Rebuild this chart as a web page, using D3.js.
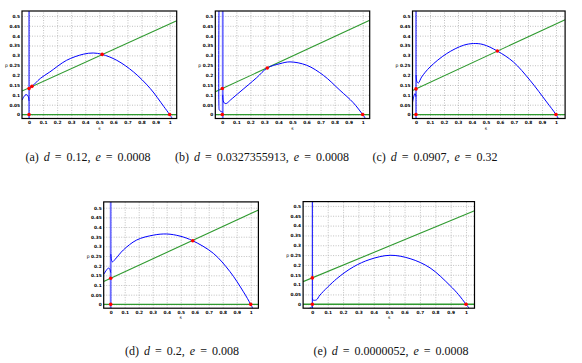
<!DOCTYPE html>
<html>
<head>
<meta charset="utf-8">
<script src="https://cdn.jsdelivr.net/npm/d3@7"></script>
<style>
  body { margin: 0; background: #fff; }
  svg { display: block; }
  .tick text { font-family: "DejaVu Sans", sans-serif; font-size: 4.3px; font-weight: bold; fill: #000; }
  .grid line { stroke: #b0b0b0; stroke-dasharray: 1,1.5; stroke-width: 0.8; }
  .grid path { display: none; }
  .caption { font-family: "Liberation Serif", serif; font-size: 12px; word-spacing: 2px; fill: #111; }
</style>
</head>
<body>
<div id="chart"></div>
<script>
// ticks
const xTicks = [0, 0.1, 0.2, 0.3, 0.4, 0.5, 0.6, 0.7, 0.8, 0.9, 1];
const yTicks = [0, 0.05, 0.1, 0.15, 0.2, 0.25, 0.3, 0.35, 0.4, 0.45, 0.5];

// (a) d = 0.12, e = 0.0008
const aMainS = [0.001, 0.004, 0.021, 0.08, 0.148, 0.267, 0.386, 0.457, 0.52, 0.624, 0.743, 0.862, 0.957, 1.0, 1.03];
const aMainP = [0.13, 0.136, 0.143, 0.183, 0.216, 0.275, 0.306, 0.312, 0.305, 0.275, 0.216, 0.132, 0.042, 0.0, -0.032];
const aLeftS = [-0.05, -0.035, -0.022, -0.01, -0.003, -0.001];
const aLeftP = [0.073, 0.092, 0.101, 0.097, 0.085, 0.07];
const aGreenS = [-0.05, 1.05];
const aGreenP = [0.119, 0.476];
const aDotS = [0, 1, 0, 0.021, 0.52];
const aDotP = [0, 0, 0.132, 0.143, 0.305];

// (b) d = 0.0327355913, e = 0.0008
const bMainS = [0.003, 0.006, 0.015, 0.028, 0.06, 0.126, 0.245, 0.32, 0.411, 0.482, 0.601, 0.72, 0.838, 0.933, 1.0, 1.02];
const bMainP = [0.1, 0.07, 0.058, 0.056, 0.075, 0.115, 0.187, 0.236, 0.258, 0.267, 0.25, 0.199, 0.123, 0.06, 0.0, -0.02];
const bLeftS = [-0.024, -0.024, -0.022, -0.015, -0.005, 0.003];
const bLeftP = [0.53, 0.04, 0.024, 0.018, 0.014, 0.012];
const bGreenS = [-0.05, 1.05];
const bGreenP = [0.115, 0.478];
const bDotS = [0, 1, 0, 0.32];
const bDotP = [0, 0, 0.132, 0.236];

// (c) d = 0.0907, e = 0.32
const cMainS = [0.001, 0.006, 0.017, 0.04, 0.1, 0.219, 0.338, 0.41, 0.48, 0.581, 0.695, 0.814, 0.933, 1.0, 1.025];
const cMainP = [0.2, 0.168, 0.16, 0.19, 0.241, 0.309, 0.351, 0.36, 0.355, 0.322, 0.267, 0.174, 0.064, 0.0, -0.03];
const cLeftS = [-0.025, -0.016, -0.007, -0.003, -0.001];
const cLeftP = [0.06, 0.092, 0.106, 0.1, 0.09];
const cGreenS = [-0.025, 1.065];
const cGreenP = [0.122, 0.481];
const cDotS = [0, 1, 0, 0.581];
const cDotP = [0, 0, 0.13, 0.322];

// (d) d = 0.2, e = 0.008
const dMainS = [0.001, 0.005, 0.012, 0.04, 0.09, 0.186, 0.305, 0.4, 0.495, 0.586, 0.733, 0.852, 0.948, 1.0, 1.025];
const dMainP = [0.26, 0.23, 0.22, 0.24, 0.281, 0.333, 0.358, 0.364, 0.353, 0.329, 0.264, 0.169, 0.065, 0.0, -0.035];
const dLeftS = [-0.05, -0.035, -0.02, -0.012, -0.005, -0.001];
const dLeftP = [0.155, 0.172, 0.186, 0.187, 0.18, 0.165];
const dGreenS = [-0.05, 1.055];
const dGreenP = [0.118, 0.488];
const dDotS = [0, 1, 0, 0.586];
const dDotP = [0, 0, 0.135, 0.329];

// (e) d = 0.0000052, e = 0.0008
const eMainS = [0.001, 0.003, 0.026, 0.05, 0.159, 0.267, 0.375, 0.506, 0.636, 0.766, 0.896, 0.95, 1.0, 1.02];
const eMainP = [0.03, 0.022, 0.022, 0.047, 0.13, 0.19, 0.228, 0.249, 0.232, 0.185, 0.095, 0.05, 0.0, -0.02];
const eLeftS = [-0.03, -0.015, -0.003];
const eLeftP = [-0.022, -0.02, -0.012];
const eGreenS = [-0.06, 1.055];
const eGreenP = [0.115, 0.475];
const eDotS = [0, 1, 0];
const eDotP = [0, 0, 0.134];

const zip = (s, p) => s.map((v, i) => [v, p[i]]);

const panels = [
  { box: [22, 11, 176.7, 118.5], xd: [-0.05, 1.05], yd: [-0.02, 0.525], vert: [{ s: 0, light: false }],
    main: zip(aMainS, aMainP), left: zip(aLeftS, aLeftP), green: zip(aGreenS, aGreenP), dots: zip(aDotS, aDotP),
    cap: { x: 88, y: 161, label: '(a)', d: '0.12', e: '0.0008' } },
  { box: [215.3, 11, 369.7, 118.5], xd: [-0.05, 1.05], yd: [-0.02, 0.525], vert: [{ s: 0.003, light: true }],
    main: zip(bMainS, bMainP), left: zip(bLeftS, bLeftP), green: zip(bGreenS, bGreenP), dots: zip(bDotS, bDotP),
    cap: { x: 262, y: 161, label: '(b)', d: '0.0327355913', e: '0.0008' } },
  { box: [412.5, 11, 565.1, 118.5], xd: [-0.025, 1.065], yd: [-0.02, 0.525], vert: [{ s: 0, light: false }],
    main: zip(cMainS, cMainP), left: zip(cLeftS, cLeftP), green: zip(cGreenS, cGreenP), dots: zip(cDotS, cDotP),
    cap: { x: 435, y: 161, label: '(c)', d: '0.0907', e: '0.32' } },
  { box: [103.7, 201.9, 258.4, 308.2], xd: [-0.05, 1.055], yd: [-0.02, 0.53], vert: [{ s: 0, light: true }],
    main: zip(dMainS, dMainP), left: zip(dLeftS, dLeftP), green: zip(dGreenS, dGreenP), dots: zip(dDotS, dDotP),
    cap: { x: 182, y: 355, label: '(d)', d: '0.2', e: '0.008' } },
  { box: [303.1, 201.6, 474.5, 308.2], xd: [-0.06, 1.055], yd: [-0.02, 0.522], vert: [{ s: 0, light: false }],
    main: zip(eMainS, eMainP), left: zip(eLeftS, eLeftP), green: zip(eGreenS, eGreenP), dots: zip(eDotS, eDotP),
    cap: { x: 391, y: 355, label: '(e)', d: '0.0000052', e: '0.0008' } }
];

const svg = d3.select('#chart').append('svg')
  .attr('width', 582).attr('height', 363);

let clipId = 0;
panels.forEach(pn => {
  const [x0, y0, x1, y1] = pn.box;
  const x = d3.scaleLinear().domain(pn.xd).range([x0, x1]);
  const y = d3.scaleLinear().domain(pn.yd).range([y1, y0]);
  const g = svg.append('g');

  // grid
  g.append('g').attr('class', 'grid')
    .attr('transform', `translate(0,${y1})`)
    .call(d3.axisBottom(x).tickValues(xTicks).tickSize(-(y1 - y0)).tickFormat(''));
  g.append('g').attr('class', 'grid')
    .attr('transform', `translate(${x0},0)`)
    .call(d3.axisLeft(y).tickValues(yTicks).tickSize(-(x1 - x0)).tickFormat(''));

  const id = 'clip' + (clipId++);
  svg.append('clipPath').attr('id', id).append('rect')
    .attr('x', x0).attr('y', y0).attr('width', x1 - x0).attr('height', y1 - y0);
  const plot = g.append('g').attr('clip-path', `url(#${id})`);

  const line = d3.line().x(d => x(d[0])).y(d => y(d[1]));
  const curve = d3.line().x(d => x(d[0])).y(d => y(d[1])).curve(d3.curveCatmullRom.alpha(0.5));

  // green lines
  plot.append('path').attr('d', line([[pn.xd[0], 0], [pn.xd[1], 0]]))
    .attr('fill', 'none').attr('stroke', '#2f9a2f').attr('stroke-width', 1.3);
  plot.append('path').attr('d', line(pn.green))
    .attr('fill', 'none').attr('stroke', '#2f9a2f').attr('stroke-width', 1.1);

  // vertical branch
  pn.vert.forEach(v => {
    plot.append('path').attr('d', line([[v.s, pn.yd[0]], [v.s, pn.yd[1]]]))
      .attr('fill', 'none')
      .attr('stroke', v.light ? '#6a6aff' : '#0000ff')
      .attr('stroke-width', v.light ? 1.8 : 1);
  });

  // blue branches
  [pn.main, pn.left].forEach(arr => {
    plot.append('path').attr('d', curve(arr))
      .attr('fill', 'none').attr('stroke', '#0000ff').attr('stroke-width', 1);
  });

  // red dots
  plot.selectAll('circle').data(pn.dots).enter().append('circle')
    .attr('cx', d => x(d[0])).attr('cy', d => y(d[1])).attr('r', 1.8)
    .attr('fill', '#ff0000');

  // frame
  g.append('rect').attr('x', x0).attr('y', y0).attr('width', x1 - x0).attr('height', y1 - y0)
    .attr('fill', 'none').attr('stroke', '#000').attr('stroke-width', 1.2);

  // tick labels
  const xa = g.append('g').attr('transform', `translate(0,${y1})`)
    .call(d3.axisBottom(x).tickValues(xTicks).tickSize(0).tickPadding(2.5).tickFormat(d3.format('~g')));
  xa.select('.domain').remove();
  const ya = g.append('g').attr('transform', `translate(${x0},0)`)
    .call(d3.axisLeft(y).tickValues(yTicks).tickSize(0).tickPadding(2).tickFormat(d3.format('~g')));
  ya.select('.domain').remove();

  // axis labels
  g.append('text').attr('x', x(0.5)).attr('y', y1 + 11)
    .attr('text-anchor', 'middle').style('font-family', 'DejaVu Sans').style('font-size', '4.5px')
    .text('s');
  g.append('text').attr('x', x0 - 15.5).attr('y', y(0.25) + 1.5)
    .attr('text-anchor', 'middle').style('font-family', 'DejaVu Sans').style('font-size', '4.5px')
    .text('p');

  // caption
  const t = svg.append('text').attr('class', 'caption')
    .attr('x', pn.cap.x).attr('y', pn.cap.y).attr('text-anchor', 'middle');
  t.append('tspan').text(pn.cap.label + ' ');
  t.append('tspan').style('font-style', 'italic').text('d');
  t.append('tspan').text(' = ' + pn.cap.d + ', ');
  t.append('tspan').style('font-style', 'italic').text('e');
  t.append('tspan').text(' = ' + pn.cap.e);
});
</script>
</body>
</html>
